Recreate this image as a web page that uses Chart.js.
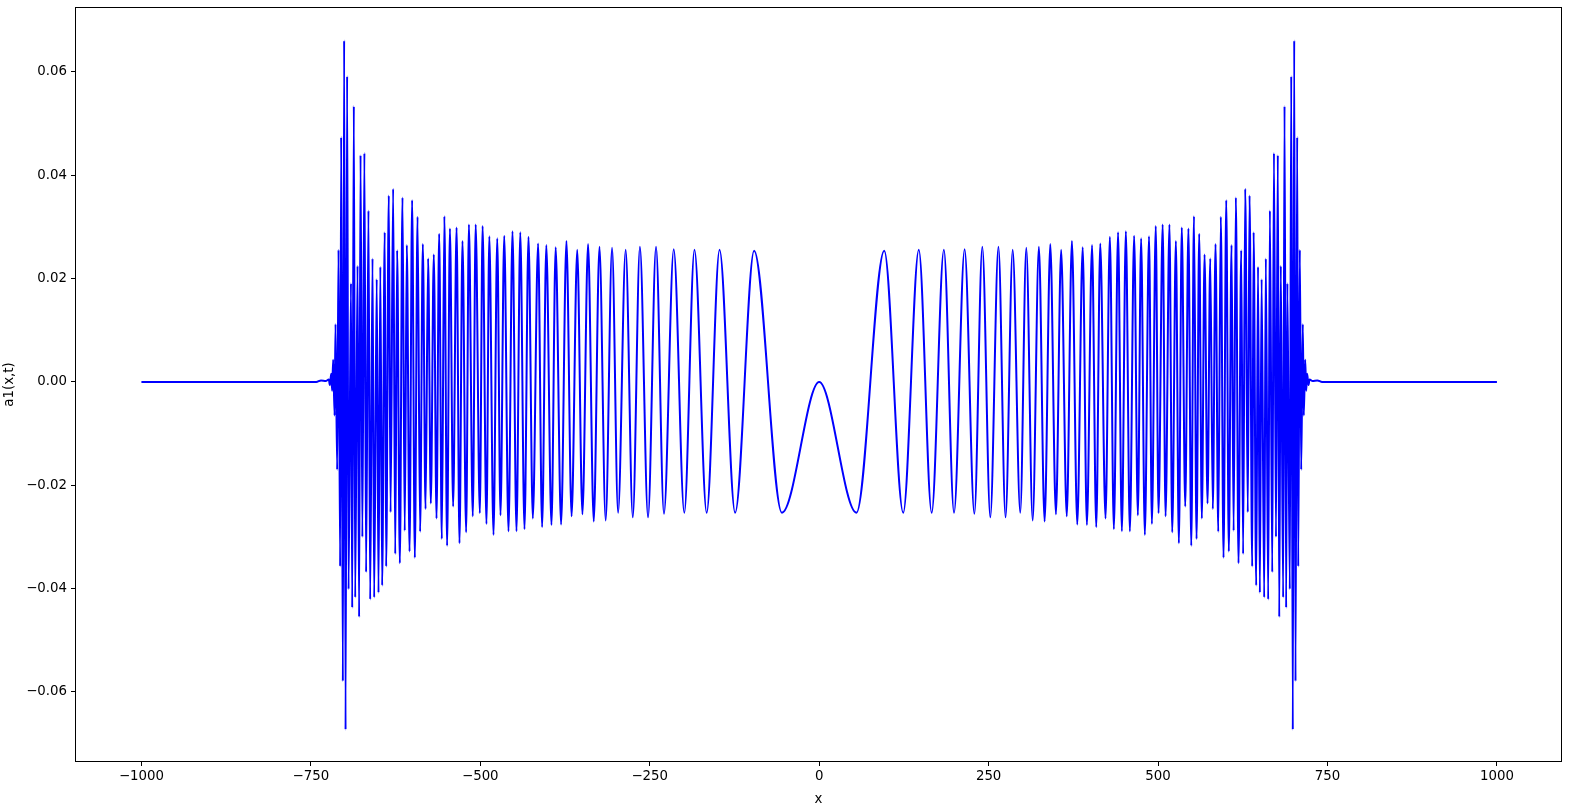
<!DOCTYPE html>
<html>
<head>
<meta charset="utf-8">
<title>a1(x,t)</title>
<script src="https://cdn.jsdelivr.net/npm/chart.js@4.4.1/dist/chart.umd.min.js"></script>
<style>
  html, body { margin: 0; padding: 0; background: #fff; }
  canvas { display: block; }
</style>
</head>
<body>
<canvas id="chartWave" width="1573" height="811"></canvas>
<script>
// tick labels
const xTicks = [-1000, -750, -500, -250, 0, 250, 500, 750, 1000];
const yTicks = [-0.06, -0.04, -0.02, 0, 0.02, 0.04, 0.06];

// right half of the wave, one point per peak / trough
// (the curve is mirrored around x = 0)
const peakX = [
    0, 55, 96, 124, 147, 166, 184, 199, 214.6, 229,
    240.7, 252.5, 264.5, 275, 285.5, 296.7, 305.6, 315, 324.2, 332.6,
    341, 349.3, 357, 365.3, 372.9, 380.8, 388.8, 395, 402.6, 408.8,
    414.7, 422.5, 428.9, 434.8, 441, 446.6, 452.5, 458.4, 464.7, 470.2,
    475, 480.5, 486.7, 490.9, 496.6, 500.7, 506.8, 511.1, 516.8, 520.9,
    526.3, 530.7, 535, 540.1, 544.8, 549, 553, 556.8, 560.7, 564.6,
    568.6, 573, 577, 580.8, 584.8, 588.8, 592.6, 596.6, 600.6, 604.4,
    608.4, 611.5, 614.8, 618.7, 622.7, 625.5, 628.6, 632.4, 635, 638.9,
    641, 644.8, 647.5, 650.2, 652.8, 656.6, 659, 662.5, 665, 668.5,
    671, 674, 676.7, 678.8, 681.1, 684.6, 686.6, 689, 690.8, 694.4,
    696.5, 698.8, 700.9, 702.8, 705.3, 706.8, 709.2, 711.2, 713.6, 715,
    717.1, 718.6, 720, 722, 723.5, 728, 735, 742, 750, 1000
];
const peakY = [
    0, -0.0253, 0.0254, -0.0253, 0.0256, -0.0253, 0.0256, -0.0253, 0.0257, -0.0255,
    0.0262, -0.0262, 0.0262, -0.0262, 0.0256, -0.0253, 0.0260, -0.0268, 0.0262, -0.0270,
    0.0267, -0.0256, 0.0256, -0.0260, 0.0273, -0.0276, 0.0261, -0.0277, 0.0265, -0.0281,
    0.0268, -0.0264, 0.0281, -0.0285, 0.0290, -0.0289, 0.0292, -0.0289, 0.0283, -0.0258,
    0.0278, -0.0296, 0.0282, -0.0275, 0.0302, -0.0254, 0.0305, -0.0260, 0.0305, -0.0291,
    0.0273, -0.0312, 0.0299, -0.0241, 0.0297, -0.0317, 0.0321, -0.0304, 0.0287, -0.0264,
    0.0247, -0.0235, 0.0239, -0.0246, 0.0267, -0.0290, 0.0320, -0.0340, 0.0352, -0.0328,
    0.0265, -0.0288, 0.0357, -0.0351, 0.0255, -0.0333, 0.0374, -0.0252, 0.0361, -0.0357,
    0.0290, -0.0394, 0.0223, -0.0408, 0.0199, -0.0417, 0.0239, -0.0421, 0.0332, -0.0368,
    0.0443, -0.0300, 0.0439, -0.0455, 0.0225, -0.0417, 0.0534, -0.0437, 0.0191, -0.0401,
    0.0592, -0.0673, 0.0661, -0.0579, 0.0474, -0.0357, 0.0256, -0.0170, 0.0112, -0.0065,
    0.0043, -0.0017, 0.0016, -0.0006, 0.0005, 0.0002, 0.0003, 0, 0, 0
];

// build the full curve: mirrored left half + right half
let points = [];
for (let i = peakX.length - 1; i > 0; i--) {
    points.push({ x: -peakX[i], y: peakY[i] });
}
for (let i = 0; i < peakX.length; i++) {
    points.push({ x: peakX[i], y: peakY[i] });
}

const tickFont = { family: "DejaVu Sans", size: 13.33 };

// box around the plot, like the matplotlib frame
const frame = {
    id: "frame",
    afterDraw(chart) {
        const a = chart.chartArea;
        const ctx = chart.ctx;
        ctx.save();
        ctx.strokeStyle = "#000";
        ctx.lineWidth = 1;
        ctx.strokeRect(Math.round(a.left) + 0.5, Math.round(a.top) + 0.5,
            Math.round(a.right - a.left) - 1, Math.round(a.bottom - a.top) - 1);
        ctx.restore();
    }
};

function minus(s) {
    return s.replace("-", "\u2212");
}

new Chart(document.getElementById("chartWave"), {
    type: "scatter",
    data: {
        datasets: [{
            data: points,
            showLine: true,
            borderColor: "#0000ff",
            borderWidth: 2,
            borderJoinStyle: "round",
            pointRadius: 0,
            tension: 0.4,
            cubicInterpolationMode: "monotone"
        }]
    },
    options: {
        responsive: false,
        animation: false,
        events: [],
        layout: { padding: { top: 7, right: 11, left: 0, bottom: 0 } },
        plugins: {
            legend: { display: false },
            tooltip: { enabled: false }
        },
        scales: {
            x: {
                type: "linear",
                min: -1098,
                max: 1096,
                afterBuildTicks: scale => { scale.ticks = xTicks.map(v => ({ value: v })); },
                afterFit: scale => {
                    scale.height = 49;
                    scale.paddingLeft = 0;
                    scale.paddingRight = 0;
                },
                ticks: {
                    autoSkip: false,
                    maxRotation: 0,
                    padding: 3,
                    color: "#000",
                    font: tickFont,
                    callback: v => minus(String(v))
                },
                grid: { drawOnChartArea: false, drawTicks: true, tickLength: 4, color: "#000" },
                border: { display: false },
                title: {
                    display: true,
                    text: "x",
                    color: "#000",
                    font: tickFont,
                    padding: { top: 0, bottom: 3 }
                }
            },
            y: {
                type: "linear",
                min: -0.07355,
                max: 0.07258,
                afterBuildTicks: scale => { scale.ticks = yTicks.map(v => ({ value: v })); },
                afterFit: scale => {
                    scale.width = 75;
                    scale.paddingTop = 0;
                    scale.paddingBottom = 0;
                },
                ticks: {
                    autoSkip: false,
                    padding: 4,
                    color: "#000",
                    font: tickFont,
                    callback: v => minus(v.toFixed(2))
                },
                grid: { drawOnChartArea: false, drawTicks: true, tickLength: 4, color: "#000" },
                border: { display: false },
                title: {
                    display: true,
                    text: "a1(x,t)",
                    color: "#000",
                    font: tickFont,
                    padding: { top: 2, bottom: 0 }
                }
            }
        }
    },
    plugins: [frame]
});
</script>
</body>
</html>
